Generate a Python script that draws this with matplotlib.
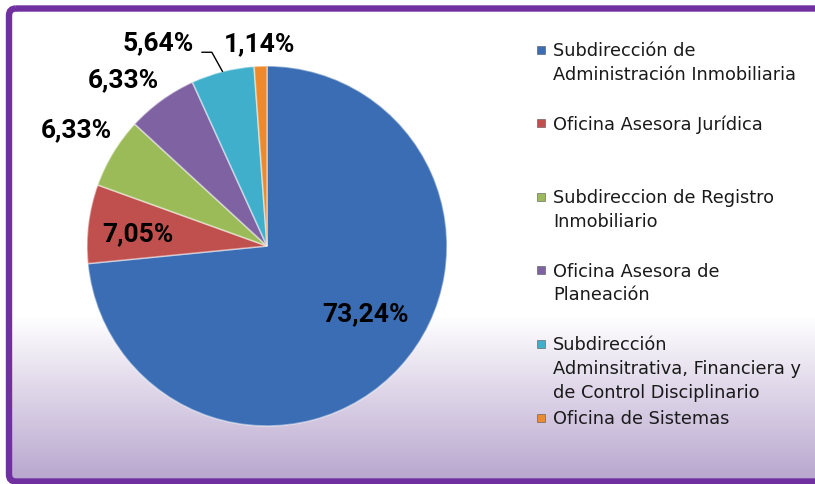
import numpy as np
import matplotlib.pyplot as plt
from matplotlib.patches import FancyBboxPatch, Rectangle

# data
labels = ["Subdirección de\nAdministración Inmobiliaria",
          "Oficina Asesora Jurídica",
          "Subdireccion de Registro\nInmobiliario",
          "Oficina Asesora de\nPlaneación",
          "Subdirección\nAdminsitrativa, Financiera y\nde Control Disciplinario",
          "Oficina de Sistemas"]
values = [73.24, 7.05, 6.33, 6.33, 5.64, 1.14]
colors = ["#3A6DB4", "#C0504D", "#9BBB59", "#7F62A1", "#3FAFCB", "#EE8A2C"]

# label placement (radius in pie units, angle nudge in degrees)
label_dist = [0.667, 0.72, 1.24, 1.22, 1.28, 1.12]
label_nudge = [7.3, 2.0, 0.0, 5.0, 14.0, 0.0]

W, H = 815, 484
fig = plt.figure(figsize=(W / 100, H / 100), dpi=100)
fig.patch.set_facecolor("white")

# background: white fading to lavender at the bottom, inside the purple frame
bg = fig.add_axes([0, 0, 1, 1])
bg.set_axis_off()
rows = np.arange(H)
t = np.clip((rows - 315) / (478 - 315), 0, 1)[:, None]
top_c = np.array([1.0, 1.0, 1.0])
bot_c = np.array([0.725, 0.655, 0.81])
img = (top_c * (1 - t) + bot_c * t)[:, None, :]
frame = FancyBboxPatch((9, 8.5), 840, 473, boxstyle="round,pad=0,rounding_size=7",
                       fill=False, ec="#7030A0", lw=4.6, zorder=5)
im = bg.imshow(img, aspect="auto", extent=[0, W, H, 0], zorder=0)
bg.set_xlim(0, W)
bg.set_ylim(H, 0)
bg.add_patch(frame)
im.set_clip_path(frame)

# legend drawn by hand: Excel spaces the entries in equal slots
for i, (lab, col) in enumerate(zip(labels, colors)):
    yc = 50 + i * 73.6
    bg.add_patch(Rectangle((537, yc - 4.5), 8, 8, fc=col, ec="#555555", lw=0.4, zorder=3))
    bg.text(553, yc - 8, lab, fontsize=12.8, va="top", ha="left", family="DejaVu Sans",
            color="#1a1a1a", linespacing=1.4, zorder=3)

# pie
ax = fig.add_axes([87 / W, (H - 246 - 180) / H, 360 / W, 360 / H])
wedges, _ = ax.pie(values, colors=colors, startangle=90, counterclock=False,
                   wedgeprops=dict(edgecolor=(1, 1, 1, 0.45), linewidth=1.2))
ax.set_xlim(-1, 1)
ax.set_ylim(-1, 1)
ax.set_aspect("equal")
ax.axis("off")

for i, w in enumerate(wedges):
    txt = f"{values[i]:.2f}".replace(".", ",") + "%"
    mid = np.deg2rad((w.theta1 + w.theta2) / 2)
    ang = mid + np.deg2rad(label_nudge[i])
    lx, ly = label_dist[i] * np.cos(ang), label_dist[i] * np.sin(ang)
    style = dict(fontsize=19, fontweight="bold", family=["Roboto", "DejaVu Sans"],
                 ha="center", va="center", color="black")
    if i == 4:
        ax.annotate(txt, xy=(np.cos(mid), np.sin(mid)), xytext=(lx, ly),
                    arrowprops=dict(arrowstyle="-", color="black", lw=1,
                                    connectionstyle="angle,angleA=0,angleB=119",
                                    relpos=(1.0, 0.12), shrinkA=4, shrinkB=0),
                    **style)
    else:
        ax.text(lx, ly, txt, **style)

fig.savefig("out.png", dpi=100)
